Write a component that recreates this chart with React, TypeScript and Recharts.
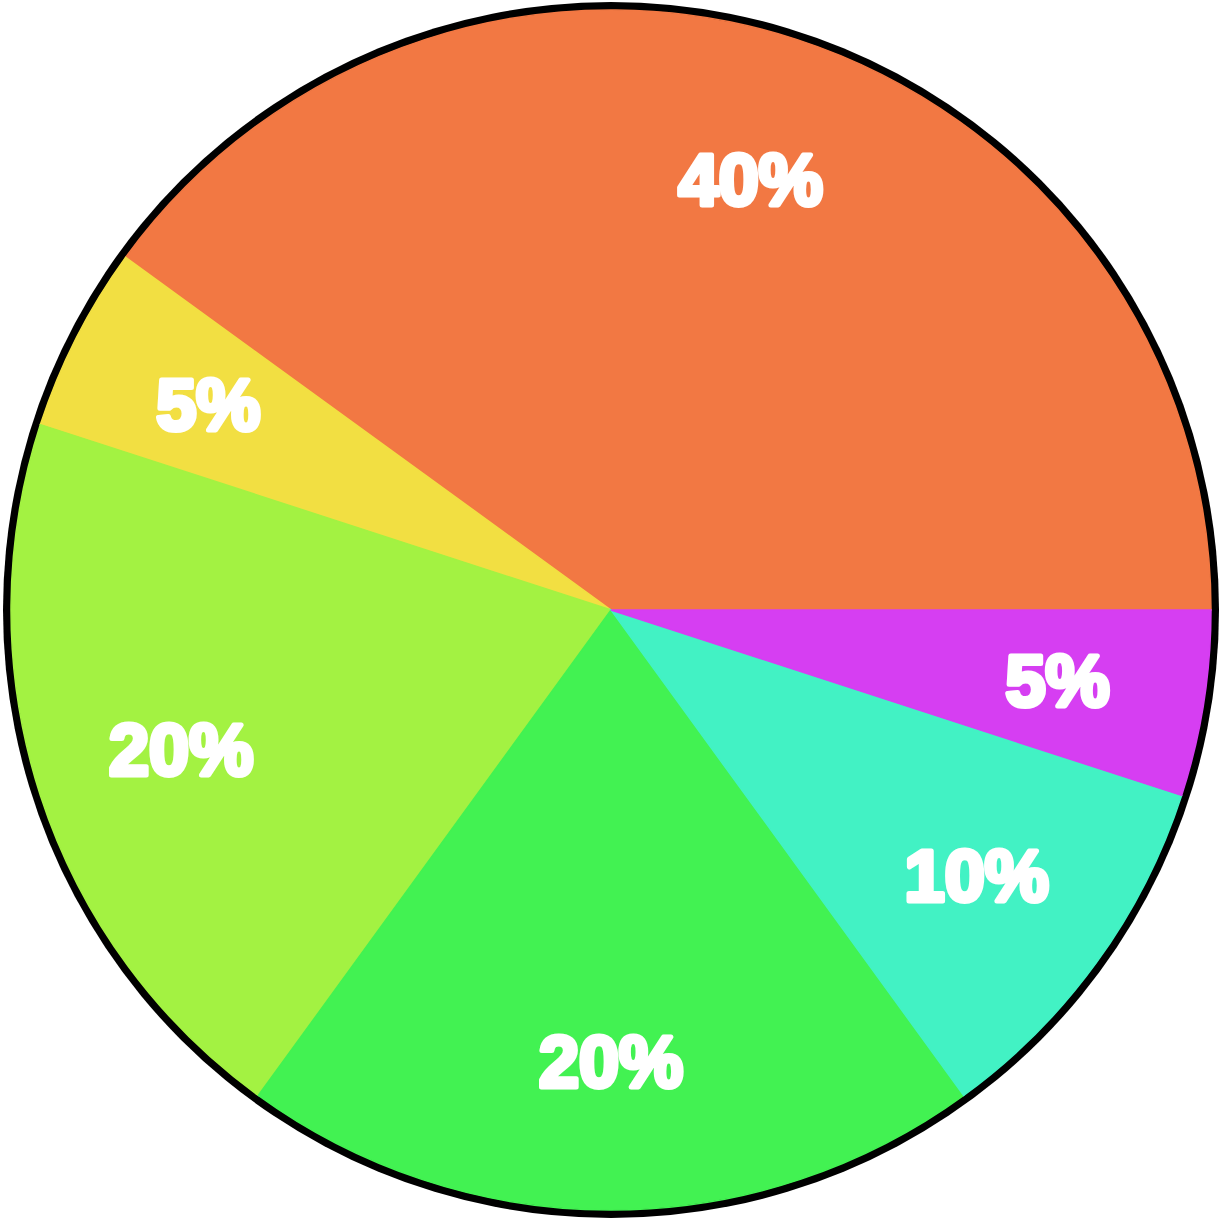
import React from "react";
import { PieChart, Pie, Cell } from "recharts";

const categories = ["A", "B", "C", "D", "E", "F"];
const values = [40, 5, 20, 20, 10, 5];
const labels = ["40%", "5%", "20%", "20%", "10%", "5%"];
const colors = ["#F27843", "#F2DF42", "#A3F242", "#42F252", "#42F2C4", "#D63EF2"];

const data = categories.map((name, i) => ({ name, value: values[i], label: labels[i] }));

const CX = 611;
const CY = 610;
const RADIUS = 600;
const RAD = Math.PI / 180;

function SliceLabel(props: any) {
  const { midAngle, index } = props;
  const r = 452;
  const x = CX + r * Math.cos(-midAngle * RAD);
  const y = CY + r * Math.sin(-midAngle * RAD);
  return (
    <text
      x={x}
      y={y}
      fill="#FFFFFF"
      stroke="#FFFFFF"
      strokeWidth={5}
      strokeLinejoin="round"
      textAnchor="middle"
      dominantBaseline="central"
      fontFamily="'Liberation Sans', Arial, sans-serif"
      fontWeight={700}
      fontSize={72}
    >
      {labels[index]}
    </text>
  );
}

export default function App() {
  return (
    <div style={{ position: "absolute", left: 0, top: 0, width: 1219, height: 1219, background: "#fff" }}>
      <div
        style={{
          position: "absolute",
          left: CX - RADIUS - 8,
          top: CY - RADIUS - 8,
          width: (RADIUS + 8) * 2,
          height: (RADIUS + 8) * 2,
          borderRadius: "50%",
          background: "#000",
        }}
      />
      <div style={{ position: "absolute", left: 0, top: 0 }}>
        <PieChart width={1219} height={1219} margin={{ top: 0, right: 0, bottom: 0, left: 0 }}>
          <Pie
            data={data}
            dataKey="value"
            nameKey="name"
            cx={CX}
            cy={CY}
            outerRadius={RADIUS}
            startAngle={0}
            endAngle={360}
            label={SliceLabel}
            labelLine={false}
            isAnimationActive={false}
          >
            {data.map((d, i) => (
              <Cell key={d.name} fill={colors[i]} stroke={colors[i]} strokeWidth={1.5} />
            ))}
          </Pie>
        </PieChart>
      </div>
    </div>
  );
}
